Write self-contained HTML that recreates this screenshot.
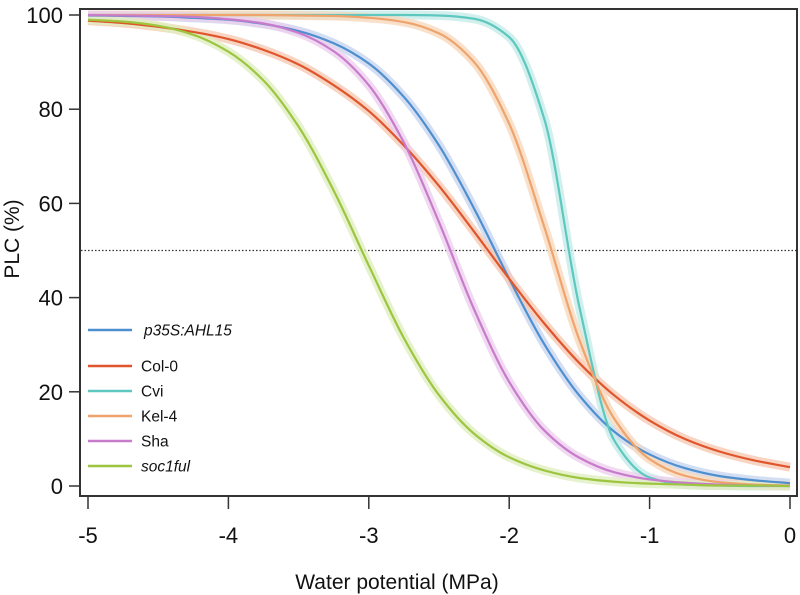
<!DOCTYPE html>
<html><head><meta charset="utf-8"><style>
body{margin:0;background:#fff;}
svg{display:block;font-family:"Liberation Sans",Arial,sans-serif;}
</style></head><body>
<svg id="chart" width="800" height="595" viewBox="0 0 800 595">
<rect x="80" y="9" width="717" height="487" fill="none" stroke="#333" stroke-width="2"/>
<g id="grid"></g>
<g id="bands"></g>
<g id="lines"></g>
<g id="axes"></g>
<g id="legend"></g>
<text x="397" y="589" text-anchor="middle" font-size="21" fill="#111">Water potential (MPa)</text>
<text x="0" y="0" transform="translate(19,239) rotate(-90)" text-anchor="middle" font-size="21" fill="#111">PLC (%)</text>
</svg>
<script>
const xs = [-5,-4.75,-4.5,-4.25,-4,-3.75,-3.5,-3.25,-3,-2.75,-2.5,-2.25,-2,-1.75,-1.5,-1.25,-1,-0.75,-0.5,-0.25,0];
const seriesNames = ["p35S:AHL15","Col-0","Cvi","Kel-4","Sha","soc1ful"];
const valsAHL15 = [99.9,99.8,99.7,99.4,99.0,98.1,96.6,94.0,89.7,82.6,72.3,58.9,44.0,30.1,19.2,11.5,6.7,3.8,2.1,1.2,0.6];
const valsCol0 = [98.8,98.3,97.5,96.4,94.9,92.6,89.5,85.1,79.6,72.3,63.7,54.0,44.0,34.5,26.1,19.2,13.9,10.0,7.3,5.4,4.0];
const valsCvi = [100,100,100,100,100,100,100,100,100,100,99.9,99.2,95.3,77.9,38.0,9.6,1.8,0.3,0.1,0,0];
const valsKel4 = [100,100,100,100,100,100,99.9,99.8,99.4,98.5,96.1,90.0,76.9,55.0,31.0,14.2,5.7,2.2,0.8,0.3,0.1];
const valsSha = [100,99.9,99.8,99.6,99.1,98.2,96.2,92.3,85.1,72.9,56.0,37.5,22.1,11.8,6.0,2.9,1.4,0.7,0.3,0.1,0];
const valsSoc1ful = [99.0,98.6,97.7,95.8,92.2,86.1,76.3,62.7,46.8,31.4,19.3,11.1,6.1,3.3,1.7,0.9,0.5,0.3,0.1,0.1,0];
const xTicks = [-5,-4,-3,-2,-1,0];
const yTicks = [0,20,40,60,80,100];
const refLine = 50;

const NS="http://www.w3.org/2000/svg";
const colors=["#4d8fcf","#e0552c","#5ec7bf","#eea46c","#c77ccb","#9dc540"];
const bandColors=["#c9d6ef","#f6c9b4","#c5ece8","#f8d8bd","#ecd0ee","#e0efc0"];
const fx=v=>790+v*140.4;
const fy=v=>486-v*4.71;
function mk(tag,attrs,parent){const e=document.createElementNS(NS,tag);for(const k in attrs)e.setAttribute(k,attrs[k]);parent.appendChild(e);return e;}
function monoPath(X,Y){
  const n=X.length,d=[],m=[];
  for(let i=0;i<n-1;i++)d.push((Y[i+1]-Y[i])/(X[i+1]-X[i]));
  m[0]=d[0];m[n-1]=d[n-2];
  for(let i=1;i<n-1;i++){
    const h0=X[i]-X[i-1],h1=X[i+1]-X[i];
    if(d[i-1]*d[i]<=0){m[i]=0;}
    else{m[i]=3*(h0+h1)/((2*h1+h0)/d[i-1]+(h1+2*h0)/d[i]);}
  }
  let p="M"+X[0]+","+Y[0];
  for(let i=0;i<n-1;i++){const h=X[i+1]-X[i];p+=" C"+(X[i]+h/3)+","+(Y[i]+m[i]*h/3)+" "+(X[i+1]-h/3)+","+(Y[i+1]-m[i+1]*h/3)+" "+X[i+1]+","+Y[i+1];}
  return p;
}
const all=[valsAHL15,valsCol0,valsCvi,valsKel4,valsSha,valsSoc1ful];
const grid=document.getElementById("grid"),bands=document.getElementById("bands"),lines=document.getElementById("lines"),axes=document.getElementById("axes"),legend=document.getElementById("legend");
const ref=mk("line",{x1:81,x2:796,y1:fy(refLine),y2:fy(refLine),stroke:"#333","stroke-width":1.3,"stroke-dasharray":"1.5,2"},grid);


const X=xs.map(fx);
all.forEach((vals,i)=>{
  const p=monoPath(X,vals.map(fy));
  const b=mk("path",{d:p,fill:"none",stroke:bandColors[i],"stroke-width":9,opacity:0.8},bands);
  
  
  const l=mk("path",{d:p,fill:"none",stroke:colors[i],"stroke-width":2.2},lines);
  
  
});
xTicks.forEach(t=>{
  const tk=mk("line",{x1:fx(t),x2:fx(t),y1:497,y2:509,stroke:"#333","stroke-width":1.5},axes);
  
  
  const tx=mk("text",{x:fx(t),y:543,"text-anchor":"middle","font-size":22,fill:"#111"},axes);
  tx.textContent=String(t);
  
  
});
yTicks.forEach(t=>{
  const tk=mk("line",{x1:69,x2:79,y1:fy(t),y2:fy(t),stroke:"#333","stroke-width":1.5},axes);
  
  
  const tx=mk("text",{x:63,y:fy(t)+8,"text-anchor":"end","font-size":22,fill:"#111"},axes);
  tx.textContent=String(t);
  
  
});
const legY=[330,366,391,416,441,466];
seriesNames.forEach((n,i)=>{
  const g=mk("g",{},legend);
  
  
  mk("line",{x1:88,x2:132,y1:legY[i],y2:legY[i],stroke:colors[i],"stroke-width":2.4},g);
  const t=mk("text",{x:i===0?144:141,y:legY[i]+5.5,"font-size":15.5,fill:"#111","font-style":(i===0||i===5)?"italic":"normal"},g);
  t.textContent=n;
});
</script>
</body></html>
